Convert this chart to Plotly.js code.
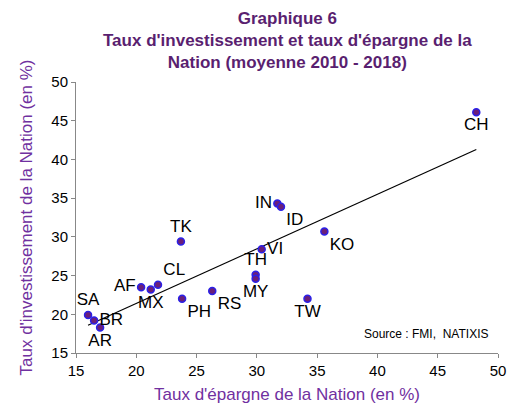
<!DOCTYPE html>
<html><head><meta charset="utf-8">
<script src="https://cdn.plot.ly/plotly-3.0.1.min.js"></script>
<style>html,body{margin:0;padding:0;background:#fff}#c{width:509px;height:406px}</style>
</head><body><div id="c"></div>
<script>
const codes = ['SA','BR','AR','AF','MX','CL','TK','PH','RS','TH','MY','VI','IN','ID','KO','TW','CH'];
const epargne = [16.0,16.5,17.0,20.4,21.2,21.8,23.7,23.8,26.3,29.9,29.9,30.4,31.7,32.0,35.6,34.2,48.2];
const investissement = [19.9,19.2,18.3,23.5,23.2,23.8,29.4,22.0,23.0,25.1,24.6,28.4,34.3,33.9,30.7,22.0,46.1];
const labelPos = ['top center','middle right','bottom center','middle left','bottom center','top right','top center','bottom right','bottom right','top center','bottom center','middle right','middle left','bottom right','bottom right','bottom center','bottom center'];

// least squares trend line
const n = epargne.length;
const mx = epargne.reduce((a,b)=>a+b,0)/n, my = investissement.reduce((a,b)=>a+b,0)/n;
let sxy=0, sxx=0;
for(let i=0;i<n;i++){sxy+=(epargne[i]-mx)*(investissement[i]-my);sxx+=(epargne[i]-mx)**2;}
const slope=sxy/sxx, icpt=my-slope*mx;
const xmin=Math.min(...epargne), xmax=Math.max(...epargne);
const trendX=[xmin,xmax], trendY=trendX.map(x=>icpt+slope*x);

const purple='#7030A0';
const F='Liberation Sans, Arial, sans-serif';
const data=[
 {x:trendX,y:trendY,mode:'lines',line:{color:'#000',width:1.2},hoverinfo:'skip',cliponaxis:false},
 {x:epargne,y:investissement,mode:'markers+text',text:codes,textposition:labelPos,cliponaxis:false,
  textfont:{family:F,size:17,color:'#000'},
  marker:{size:7,color:'#6a1f7a',line:{color:'#2a20e8',width:1.5}}}
];
const layout={
 width:509,height:406,showlegend:false,
 paper_bgcolor:'#fff',plot_bgcolor:'#fff',
 margin:{l:76,r:11,t:82,b:53},
 font:{family:F,size:15,color:'#000'},
 xaxis:{range:[15,50],dtick:5,tick0:15,showgrid:false,zeroline:false,showline:true,linecolor:'#888',linewidth:1,
  ticks:'outside',ticklen:4,tickcolor:'#888',
  title:{text:'Taux d\'épargne de la Nation (en %)',font:{size:17,color:purple},standoff:10}},
 yaxis:{range:[15,50],dtick:5,tick0:15,showgrid:false,zeroline:false,showline:true,linecolor:'#888',linewidth:1,
  ticks:'outside',ticklen:4,tickcolor:'#888',
  title:{text:'Taux d\'investissement de la Nation (en %)',font:{size:17,color:purple},standoff:14}},
 annotations:[
  {text:'<b>Graphique 6<br>Taux d\'investissement et taux d\'épargne de la<br>Nation (moyenne 2010 - 2018)</b>',
   xref:'paper',yref:'paper',x:0.5,xanchor:'center',y:1.0+ (82-7)/271,yanchor:'top',showarrow:false,
   font:{family:F,size:17,color:'#5a1f70'}},
  {text:'Source : FMI,  NATIXIS',xref:'paper',yref:'paper',x:0.98,y:0.07,xanchor:'right',yanchor:'middle',
  showarrow:false,font:{size:12,color:'#000'}}]
};
Plotly.newPlot('c',data,layout,{displayModeBar:false});
</script></body></html>
